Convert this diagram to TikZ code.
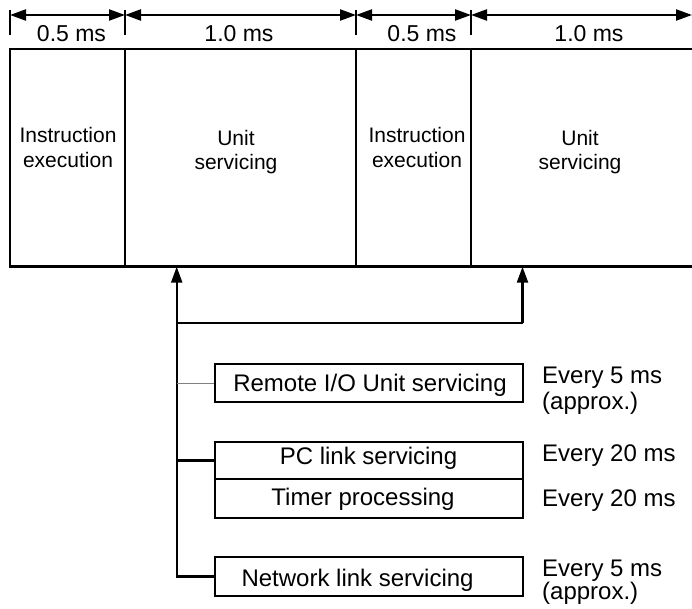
\documentclass[tikz,border=0pt]{standalone}
\usepackage{fontspec}
\setmainfont{Liberation Sans}
\usetikzlibrary{arrows.meta}
\begin{document}
\begin{tikzpicture}[x=1pt,y=-1pt,
  frame/.style={line width=2.8pt},
  dimline/.style={line width=2.2pt},
  dimtick/.style={line width=1.8pt},
  dimarrow/.style={dimline,{Triangle[length=16pt,width=11pt]}-{Triangle[length=16pt,width=11pt]}},
  dimlabel/.style={font=\fontsize{23}{26}\selectfont,anchor=base,inner sep=0pt},
  coltext/.style={font=\fontsize{21}{25}\selectfont,anchor=base,inner sep=0pt},
  taskbox/.style={draw,line width=2.2pt,minimum width=308pt,inner sep=0pt},
  tasktext/.style={font=\fontsize{24}{27}\selectfont,anchor=base,inner sep=0pt},
  ratetext/.style={font=\fontsize{24}{27}\selectfont,anchor=base west,inner sep=0pt},
  link/.style={line width=2.2pt},
  thinlink/.style={line width=1pt,gray},
  uparrow/.style={link,-{Triangle[length=16pt,width=11pt]}},
]
\useasboundingbox (0,0) rectangle (692,609);

% ---- dimension line ----
\coordinate (t0) at (10,15);
\coordinate (t1) at (125,15);
\coordinate (t2) at (356,15);
\coordinate (t3) at (471,15);
\coordinate (t4) at (692,15);
\foreach \x in {10,125,356,471} \draw[dimtick] (\x,10) -- (\x,35);
\draw[dimarrow] (t0) -- (t1);
\draw[dimarrow] (t1) -- (t2);
\draw[dimarrow] (t2) -- (t3);
\draw[dimarrow] (t3) -- (t4);
\node[dimlabel] (d1) at (71.5,42) {0.5 ms};
\node[dimlabel] (d2) at (239,42) {1.0 ms};
\node[dimlabel] (d3) at (422,42) {0.5 ms};
\node[dimlabel] (d4) at (589,42) {1.0 ms};

% ---- timeline frame ----
\draw[frame] (692,49) -- (10,49) -- (10,266.7) -- (692,266.7);
\foreach \x in {125,356,471} \draw[frame] (\x,49) -- (\x,266.7);

\node[coltext] (ie1a) at (68,143) {Instruction};
\node[coltext] (ie1b) at (68,168) {execution};
\node[coltext] (us1a) at (236,146) {Unit};
\node[coltext] (us1b) at (236,170) {servicing};
\node[coltext] (ie2a) at (417,143) {Instruction};
\node[coltext] (ie2b) at (417,168) {execution};
\node[coltext] (us2a) at (580,146) {Unit};
\node[coltext] (us2b) at (580,170) {servicing};

% ---- task boxes ----
\node[taskbox,minimum height=38pt] (rem) at (369,383) {};
\node[taskbox,minimum height=37pt] (pc) at (369,460.5) {};
\node[taskbox,minimum height=39pt] (tim) at (369,498.5) {};
\node[taskbox,minimum height=39pt] (net) at (369,576.5) {};

\node[tasktext] (remt) at (370,391.6) {Remote I/O Unit servicing};
\node[tasktext] (pct) at (368.5,464.5) {PC link servicing};
\node[tasktext] (timt) at (363,505.5) {Timer processing};
\node[tasktext] (nett) at (357.6,586) {Network link servicing};

\node[ratetext] (r1a) at (542,383) {Every 5 ms};
\node[ratetext] (r1b) at (542,409) {(approx.)};
\node[ratetext] (r2) at (542,461) {Every 20 ms};
\node[ratetext] (r3) at (542,506) {Every 20 ms};
\node[ratetext] (r4a) at (542,576) {Every 5 ms};
\node[ratetext] (r4b) at (542,599) {(approx.)};

% ---- connectors ----
\coordinate (a1) at (176.7,266.7);
\coordinate (a2) at (522.5,266.7);
\coordinate (j1) at (176.7,323);
\coordinate (j2) at (522.5,323);
\draw[link] (j1) -- (j2);
\draw[uparrow] (j1) -- (a1);
\draw[uparrow] (j2) -- (a2);
\draw[link] (j1) |- (net.west);
\draw[thinlink] (rem.west -| j1) -- (rem.west);
\draw[link] (pc.west -| j1) -- (pc.west);
\end{tikzpicture}
\end{document}
